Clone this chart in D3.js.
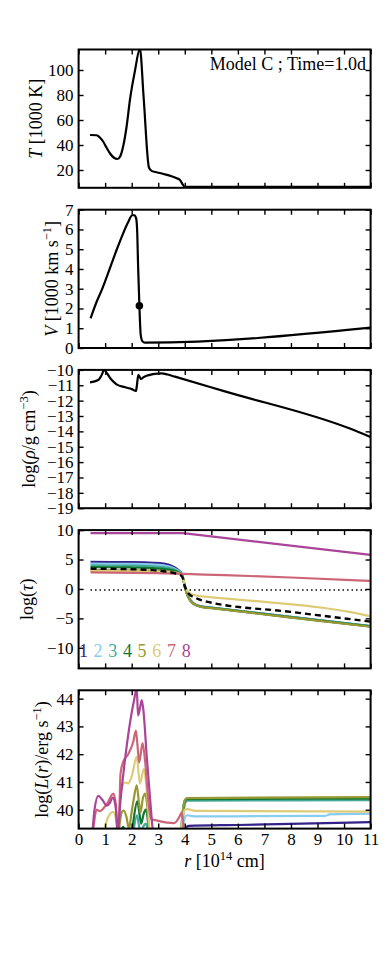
<!DOCTYPE html>
<html><head><meta charset="utf-8">
<script src="https://cdn.jsdelivr.net/npm/d3@7"></script>
<style>
html,body{margin:0;padding:0;background:#fff;}
svg{display:block;}
text{font-family:"Liberation Serif","Times New Roman",serif;}
</style></head><body>
<svg id="c" width="390" height="976"></svg>
<script>
// ---------------- DATA ----------------
const xTickValues = [0,1,2,3,4,5,6,7,8,9,10,11];
const titleText = "Model C ; Time=1.0d";

// Panel 1: temperature [1000 K]
const tempR = [0.43,0.68,0.8,0.93,1.05,1.18,1.32,1.47,1.57,1.69,1.81,1.94,2.12,2.31,2.45,2.65,2.75,2.9,3.2,3.5,3.7,3.82,3.92,4.0,11];
const tempK = [48,47.8,46,42.6,38,33.4,30,28.8,31,40,55,77,99,117,78,22,19.3,18.4,16.8,15,13.4,12,8.5,6.5,6.5];
const tempTicks = [20,40,60,80,100];

// Panel 2: velocity [1000 km/s]
const velR = [0.45,0.68,0.87,1.06,1.5,1.87,2.02,2.1,2.17,2.21,2.24,2.29,2.34,2.4,2.5,11];
const velV = [1.5,2.34,2.93,3.6,5.2,6.38,6.72,6.72,6.55,5.8,4.2,2.14,0.66,0.35,0.27,1.03];
const markerR = [2.29];
const markerV = [2.14];
const velTicks = [0,1,2,3,4,5,6,7];

// Panel 3: log density
const rhoR = [0.43,0.74,0.85,0.97,1.08,1.25,1.43,1.75,2.0,2.16,2.19,2.25,2.3,2.35,2.45,2.56,2.8,3.13,3.35,3.63,5.51,10.22,11];
const rhoV = [-10.81,-10.66,-10.4,-10.0,-10.25,-10.66,-10.94,-11.13,-11.25,-11.37,-11.1,-10.33,-10.45,-10.59,-10.47,-10.38,-10.28,-10.22,-10.3,-10.44,-11.4,-13.82,-14.37];
const rhoTicks = [-10,-11,-12,-13,-14,-15,-16,-17,-18,-19];

// Panel 4: log optical depth
const tauGroupR = [0.45,2.0,2.8,3.2,3.5,3.75,3.9,4.0,4.12,4.3,4.6,5.0,8.0,11];
const tau1 = [4.6,4.55,4.45,4.3,3.95,3.25,2.5,0.5,-1.2,-2.35,-2.95,-3.15,-4.75,-6.3];
const tau2 = [4.3,4.25,4.15,4.0,3.7,3.1,2.45,0.45,-1.2,-2.35,-2.95,-3.17,-4.77,-6.32];
const tau3 = [4.0,3.95,3.85,3.7,3.45,2.95,2.4,0.4,-1.25,-2.4,-3.0,-3.2,-4.8,-6.35];
const tau4 = [3.7,3.65,3.55,3.4,3.2,2.85,2.35,0.4,-1.25,-2.4,-3.0,-3.22,-4.82,-6.37];
const tau5 = [3.2,3.15,3.1,3.0,2.9,2.7,2.3,0.35,-1.3,-2.45,-3.05,-3.27,-4.87,-6.42];
const tau6R = [0.45,2.0,2.8,3.2,3.5,3.75,3.9,4.0,4.15,4.4,4.8,7.0,9.2,10.2,11];
const tau6 = [3.05,3.0,2.95,2.9,2.8,2.65,2.3,0.6,-0.6,-1.1,-1.3,-2.2,-3.2,-3.9,-4.65];
const tau7R = [0.45,3.0,4.0,5.5,8.0,11];
const tau7 = [2.8,2.7,2.55,2.35,1.95,1.36];
const tau8R = [0.45,3.9,4.1,11];
const tau8 = [9.5,9.5,9.4,5.8];
const tauMeanR = [0.45,2.0,2.8,3.2,3.5,3.75,3.9,4.0,4.15,4.4,4.82,8.0,11];
const tauMean = [3.45,3.35,3.2,3.0,2.8,2.5,2.1,0.5,-0.8,-1.5,-2.15,-3.9,-5.55];
const photoR = [0.45,11];
const photoTau = [-0.18,-0.18];
const tauTicks = [10,5,0,-5,-10];
const bandLabels = ["1","2","3","4","5","6","7","8"];

// Panel 5: log luminosity
const lum1R = [3.9,4.0,4.15,6.0,11];
const lum1 = [38.5,39.3,39.42,39.45,39.55];
const lum2R = [3.85,3.97,4.08,4.4,9.3,9.45,11];
const lum2 = [38.5,39.6,39.8,39.76,39.78,39.83,39.86];
const lum3R = [1.98,2.08,2.2,2.28,2.34,2.44,2.52,2.6,2.65,3.82,3.94,4.02,4.1,11];
const lum3 = [38.5,39.3,39.8,39.4,39.2,39.4,39.5,39.3,38.5,38.5,39.8,40.25,40.33,40.34];
const lum4R = [1.5,1.6,1.68,1.76,1.95,2.05,2.21,2.3,2.36,2.45,2.53,2.6,2.66,3.8,3.92,4.0,4.08,11];
const lum4 = [38.5,39.2,39.38,39.2,38.8,39.5,40.3,39.8,39.5,39.85,40.0,39.7,39.0,38.5,39.9,40.32,40.38,40.4];
const lum5R = [1.45,1.55,1.62,1.7,1.8,1.9,1.98,2.08,2.19,2.28,2.33,2.42,2.5,2.58,2.66,3.8,3.92,4.0,4.08,11];
const lum5 = [38.5,39.5,39.9,39.97,39.75,39.3,39.8,40.4,40.88,40.2,39.9,40.4,40.58,40.2,39.2,38.5,39.9,40.35,40.42,40.45];
const lum6R = [0.85,0.95,1.1,1.3,1.4,1.47,1.53,1.62,1.75,1.87,2.0,2.19,2.31,2.46,2.55,2.63,2.73,3.78,3.9,4.0,4.1,4.4,11];
const lum6 = [38.5,39.2,39.7,39.92,39.7,39.2,39.9,40.8,40.98,40.95,41.2,41.9,40.94,41.47,40.9,40.0,38.6,38.5,39.6,40.0,40.02,39.96,39.93];
const lum7R = [0.45,0.55,0.68,0.8,1.06,1.31,1.4,1.46,1.52,1.58,1.69,1.87,2.06,2.16,2.22,2.28,2.41,2.5,2.63,2.73,3.0,3.6,3.8,3.88,3.93,4.0];
const lum7 = [38.5,39.3,40.0,39.95,40.2,40.58,40.2,39.3,39.6,41.3,41.75,42.0,42.45,42.85,42.3,41.7,42.4,41.8,40.3,39.67,39.6,39.52,39.75,39.9,39.6,38.5];
const lum8R = [0.45,0.52,0.6,0.74,0.9,1.06,1.18,1.28,1.36,1.44,1.48,1.52,1.7,1.9,2.08,2.19,2.24,2.3,2.38,2.45,2.56,2.69,2.8,2.9];
const lum8 = [38.5,39.2,40.0,40.5,40.35,40.15,40.25,40.44,40.3,39.6,38.9,39.6,41.4,42.9,43.9,44.35,43.4,43.6,43.95,43.5,42.0,40.44,39.2,38.5];
const lumTicks = [40,41,42,43,44];

const bandColors = ["#332288","#88CCEE","#44AA99","#117733","#999933","#DDCC77","#CC6677","#AA4499"];

// ---------------- LAYOUT ----------------
const svg = d3.select("#c");
const X0 = 78.6, X1 = 370.6;
const x = d3.scaleLinear().domain([0,11]).range([X0,X1]);
const panelTop = [49.5,209.7,369.9,530.1,690.3];
const PH = 138.3;
const FONT = '"Liberation Serif","Times New Roman",serif';

function zip(rs, vs){ return rs.map((r,i)=>[r,vs[i]]); }

function makePanel(i, domain, ticks, isLast){
  const top = panelTop[i], bot = top + PH;
  const y = d3.scaleLinear().domain(domain).range([bot, top]);
  const g = svg.append("g");
  const clipId = "clip"+i;
  svg.append("clipPath").attr("id",clipId).append("rect")
    .attr("x",X0).attr("y",top).attr("width",X1-X0).attr("height",PH);
  const plot = g.append("g").attr("clip-path",`url(#${clipId})`);
  const axes = g.append("g");
  function styleAxis(sel){
    sel.select(".domain").remove();
    sel.selectAll(".tick line").attr("stroke","#000").attr("stroke-width",1.4);
    sel.selectAll("text").attr("font-family",FONT).attr("font-size",17).attr("fill","#000");
    sel.attr("font-family",FONT);
  }
  axes.append("g").attr("transform",`translate(${X0},0)`)
    .call(d3.axisLeft(y).tickValues(ticks).tickSize(-5).tickPadding(5).tickFormat(d3.format("d")))
    .call(styleAxis);
  axes.append("g").attr("transform",`translate(${X1},0)`)
    .call(d3.axisRight(y).tickValues(ticks).tickSize(-5).tickFormat(""))
    .call(styleAxis);
  axes.append("g").attr("transform",`translate(0,${top})`)
    .call(d3.axisTop(x).tickValues(xTickValues).tickSize(-5).tickFormat(""))
    .call(styleAxis);
  axes.append("g").attr("transform",`translate(0,${bot})`)
    .call(d3.axisBottom(x).tickValues(xTickValues).tickSize(-5).tickPadding(4)
      .tickFormat(isLast ? d3.format("d") : ""))
    .call(styleAxis);
  axes.append("rect").attr("x",X0).attr("y",top).attr("width",X1-X0).attr("height",PH)
    .attr("fill","none").attr("stroke","#000").attr("stroke-width",2);
  return {y, plot, top, bot, g};
}

function drawLine(p, rs, vs, color, width, dash){
  const line = d3.line().x(d=>x(d[0])).y(d=>p.y(d[1])).curve(d3.curveMonotoneX);
  const path = p.plot.append("path").datum(zip(rs,vs)).attr("d",line)
    .attr("fill","none").attr("stroke",color).attr("stroke-width",width)
    .attr("stroke-linejoin","round").attr("stroke-linecap","butt");
  if(dash) path.attr("stroke-dasharray",dash);
  return path;
}

function yLabel(p, xPos, parts){
  const cy = (p.top + p.bot)/2;
  const t = svg.append("text").attr("transform",`translate(${xPos},${cy}) rotate(-90)`)
    .attr("text-anchor","middle").attr("font-family",FONT).attr("font-size",18).attr("fill","#000");
  parts.forEach(pt=>{
    const ts = t.append("tspan").text(pt.t);
    if(pt.i) ts.attr("font-style","italic");
    if(pt.sup){ ts.attr("font-size",12.5).attr("dy",-7); }
    if(pt.after) ts.attr("dy",7);
  });
}

// Panel 1
const p1 = makePanel(0,[5.76,116.4],tempTicks,false);
drawLine(p1,tempR,tempK,"#000",2.2);
svg.append("text").attr("x",366).attr("y",70).attr("text-anchor","end")
  .attr("font-family",FONT).attr("font-size",18).text(titleText);
yLabel(p1,42,[{t:"T",i:true},{t:" [1000 K]"}]);

// Panel 2
const p2 = makePanel(1,[0,7],velTicks,false);
drawLine(p2,velR,velV,"#000",2.2);
p2.plot.selectAll("circle.m").data(zip(markerR,markerV)).enter().append("circle")
  .attr("cx",d=>x(d[0])).attr("cy",d=>p2.y(d[1])).attr("r",3.8).attr("fill","#000");
yLabel(p2,58,[{t:"V",i:true},{t:" [1000 km s"},{t:"−1",sup:true},{t:"]",after:true}]);

// Panel 3
const p3 = makePanel(2,[-19,-10],rhoTicks,false);
drawLine(p3,rhoR,rhoV,"#000",2.2);
yLabel(p3,35,[{t:"log("},{t:"ρ",i:true},{t:"/g cm"},{t:"−3",sup:true},{t:")",after:true}]);

// Panel 4
const p4 = makePanel(3,[-13.5,10],tauTicks,false);
drawLine(p4,photoR,photoTau,"#000",1.5,"1.5,3");
const tauSeries = [tau1,tau2,tau3,tau4,tau5];
tauSeries.forEach((s,k)=>drawLine(p4,tauGroupR,s,bandColors[k],2.2));
drawLine(p4,tau6R,tau6,bandColors[5],2.2);
drawLine(p4,tau7R,tau7,bandColors[6],2.2);
drawLine(p4,tau8R,tau8,bandColors[7],2.2);
drawLine(p4,tauMeanR,tauMean,"#000",2.4,"6,4");
bandLabels.forEach((lab,k)=>{
  svg.append("text").attr("x",x(0.18+k*0.553)).attr("y",p4.y(-11.55))
    .attr("text-anchor","middle").attr("font-family",FONT).attr("font-size",18)
    .attr("fill",bandColors[k]).text(lab);
});
yLabel(p4,33,[{t:"log("},{t:"τ",i:true},{t:")"}]);

// Panel 5
const p5 = makePanel(4,[39.32,44.3],lumTicks,true);
const lumR = [lum1R,lum2R,lum3R,lum4R,lum5R,lum6R,lum7R,lum8R];
const lumV = [lum1,lum2,lum3,lum4,lum5,lum6,lum7,lum8];
lumR.forEach((rs,k)=>drawLine(p5,rs,lumV[k],bandColors[k],2.2));
yLabel(p5,47.5,[{t:"log("},{t:"L",i:true},{t:"("},{t:"r",i:true},{t:")/erg s"},{t:"−1",sup:true},{t:")",after:true}]);

// x label
const xl = svg.append("text").attr("x",(X0+X1)/2).attr("y",867).attr("text-anchor","middle")
  .attr("font-family",FONT).attr("font-size",18).attr("fill","#000");
xl.append("tspan").attr("font-style","italic").text("r");
xl.append("tspan").text(" [10");
xl.append("tspan").attr("font-size",12.5).attr("dy",-7).text("14");
xl.append("tspan").attr("dy",7).text(" cm]");
</script>
</body></html>
